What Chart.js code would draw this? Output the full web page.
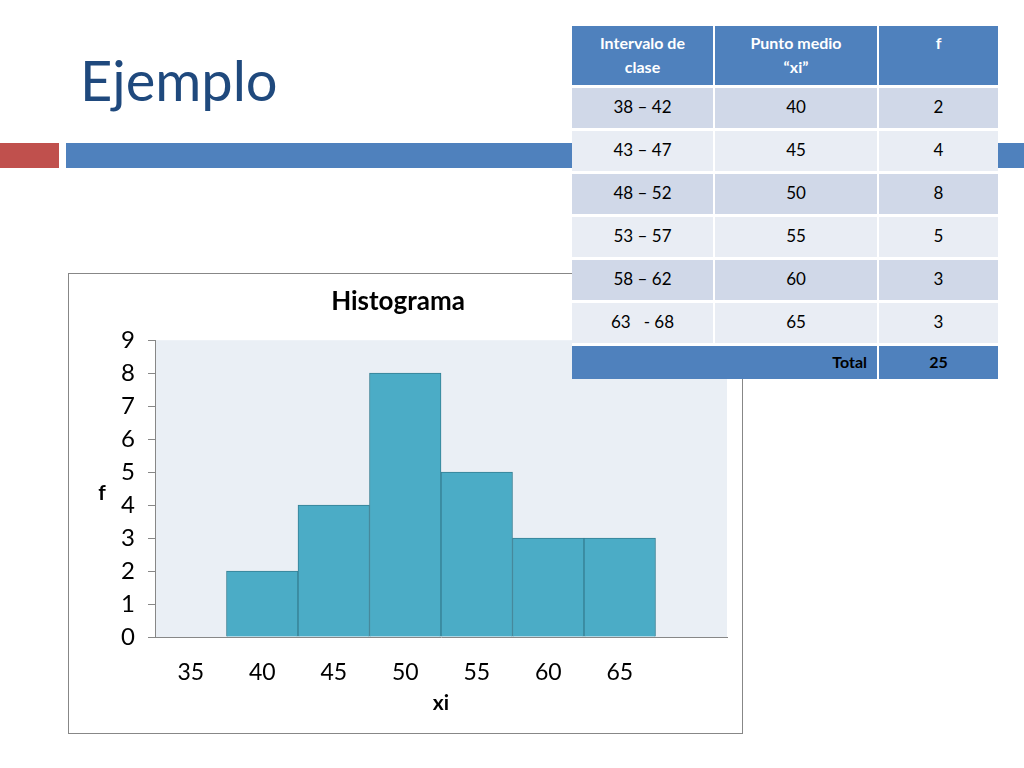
<!DOCTYPE html>
<html>
<head>
<meta charset="utf-8">
<script src="https://cdn.jsdelivr.net/npm/chart.js@4.4.0/dist/chart.umd.min.js"></script>
<style>
  body { margin: 0; width: 1024px; height: 768px; background: #fff; position: relative; overflow: hidden; font-family: Lato, "Open Sans", sans-serif; }
  #title { position: absolute; left: 80px; top: 46px; font-size: 56px; color: #1F497D; line-height: 1.2; }
  .bar { position: absolute; top: 143px; height: 25px; }
  #chartBox { position: absolute; left: 68px; top: 273px; width: 673px; height: 459px; border: 1px solid #878787; }
  #tbl { position: absolute; left: 572px; top: 26px; display: grid; background: #fff;
         grid-template-columns: 141px 162px 119px; grid-template-rows: 59px repeat(6, 40px) 33px;
         column-gap: 2px; row-gap: 3px; font-size: 17px; }
  #tbl div { display: flex; align-items: center; justify-content: center; white-space: pre; padding-bottom: 3px; box-sizing: border-box; }
  #tbl .h { background: #4F81BD; color: #fff; font-weight: bold; font-size: 16px; align-items: flex-start; text-align: center; line-height: 24px; padding-top: 5px; white-space: pre-line; }
  #tbl .d { background: #D0D8E8; color: #000; }
  #tbl .l { background: #E9EDF4; color: #000; }
  #tbl .t { background: #4F81BD; color: #000; font-weight: bold; font-size: 16px; }
</style>
</head>
<body>
<div id="title">Ejemplo</div>
<div class="bar" style="left:0;width:59px;background:#C0504D"></div>
<div class="bar" style="left:66px;width:958px;background:#4F81BD"></div>
<div id="chartBox"><canvas id="hist" width="673" height="459"></canvas></div>
<div id="tbl"></div>
<script>
// datos de la tabla
const intervalos = ['38 \u2013 42', '43 \u2013 47', '48 \u2013 52', '53 \u2013 57', '58 \u2013 62', '63   - 68'];
const puntosMedios = [40, 45, 50, 55, 60, 65];
const frecuencias = [2, 4, 8, 5, 3, 3];
// eje x del histograma (categorias)
const xCategorias = ['35', '40', '45', '50', '55', '60', '65', ''];

// tabla
const tbl = document.getElementById('tbl');
function cell(text, cls, style) {
    const d = document.createElement('div');
    d.className = cls;
    d.textContent = text;
    if (style) d.style.cssText = style;
    tbl.appendChild(d);
}
cell('Intervalo de\nclase', 'h');
cell('Punto medio\n\u201Cxi\u201D', 'h');
cell('f', 'h');
intervalos.forEach((iv, i) => {
    const cls = i % 2 === 0 ? 'd' : 'l';
    cell(iv, cls);
    cell(String(puntosMedios[i]), cls);
    cell(String(frecuencias[i]), cls);
});
cell('Total', 't', 'grid-column: 1 / span 2; justify-content: flex-end; padding-right: 10px;');
cell(String(frecuencias.reduce((a, b) => a + b, 0)), 't');

// valores por categoria
const valores = xCategorias.map(c => {
    const i = puntosMedios.indexOf(Number(c));
    return c !== '' && i >= 0 ? frecuencias[i] : null;
});

const fondoPlot = {
    id: 'fondoPlot',
    beforeDraw(chart) {
        const { ctx, chartArea: a } = chart;
        ctx.save();
        ctx.fillStyle = '#EAEFF5';
        ctx.fillRect(a.left, a.top, a.right - a.left, a.bottom - a.top);
        ctx.restore();
    },
    afterDraw(chart) {
        const { ctx, chartArea: a } = chart;
        ctx.save();
        ctx.font = 'bold 21px Lato';
        ctx.fillStyle = '#000';
        ctx.textAlign = 'center';
        ctx.textBaseline = 'middle';
        ctx.fillText('f', 33, (a.top + a.bottom) / 2 + 5);
        ctx.restore();
    }
};

new Chart(document.getElementById('hist'), {
    type: 'bar',
    data: {
        labels: xCategorias,
        datasets: [{
            data: valores,
            backgroundColor: '#4BACC6',
            borderColor: '#357F93',
            borderWidth: 1,
            barPercentage: 1,
            categoryPercentage: 1
        }]
    },
    options: {
        responsive: false,
        animation: false,
        layout: { padding: { left: 0, right: 15, top: 0, bottom: 0 } },
        plugins: {
            legend: { display: false },
            tooltip: { enabled: false },
            title: {
                display: true,
                text: 'Histograma',
                color: '#000',
                font: { family: 'Lato', size: 26, weight: 'bold' },
                padding: { top: 12, bottom: 23 }
            }
        },
        scales: {
            x: {
                grid: { display: false },
                border: { display: true, color: '#878787', width: 1 },
                ticks: { color: '#000', font: { family: 'Lato', size: 23 }, padding: 14 },
                title: { display: true, text: 'xi', color: '#000', font: { family: 'Lato', size: 21, weight: 'bold' }, padding: { top: 0, bottom: 17 } },
                afterFit(s) { s.height = 96; }
            },
            y: {
                min: 0,
                max: 9,
                ticks: { stepSize: 1, color: '#000', font: { family: 'Lato', size: 24 }, padding: 13 },
                grid: { drawOnChartArea: false, drawTicks: true, tickLength: 7, color: '#878787' },
                border: { display: true, color: '#878787', width: 1 },
                afterFit(s) { s.width = 86; }
            }
        }
    },
    plugins: [fondoPlot]
});
</script>
</body>
</html>
